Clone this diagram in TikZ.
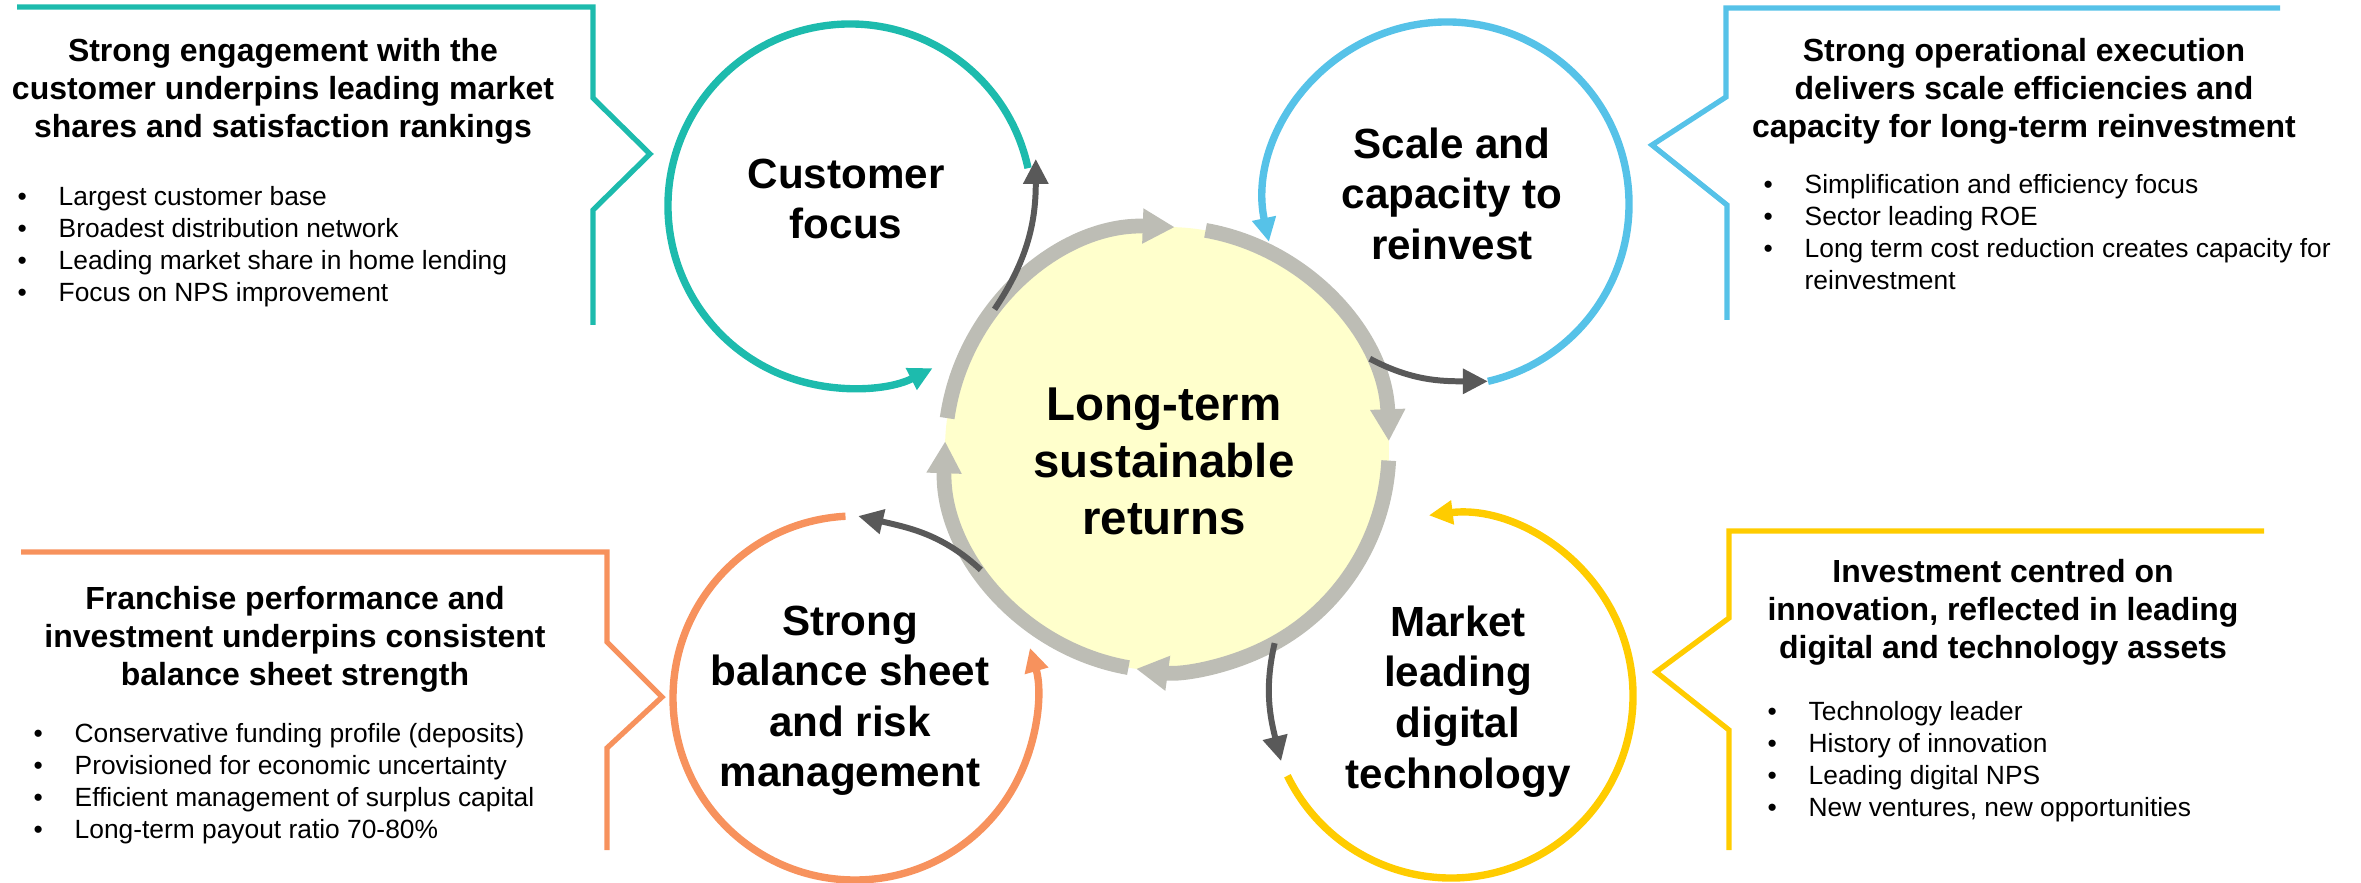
\documentclass[tikz,border=0pt]{standalone}
\usepackage{fontspec}
\setmainfont{Liberation Sans}
\usepackage{xcolor}
\usetikzlibrary{arrows.meta,positioning}

\definecolor{tealc}{HTML}{1DBBAD}
\definecolor{bluec}{HTML}{56C2E8}
\definecolor{orangec}{HTML}{F7925D}
\definecolor{goldc}{HTML}{FFCC00}
\definecolor{paleyellow}{HTML}{FFFFCC}
\definecolor{loopgrey}{HTML}{BDBDB5}
\definecolor{darkgrey}{HTML}{595959}
\newcommand{\bulitem}{\makebox[4.1mm][l]{\textbullet}}

\begin{document}
\begin{tikzpicture}[x=0.1mm,y=0.1mm,
  hub/.style={circle,minimum size=36.4mm,inner sep=0pt,outer sep=0pt},
  core/.style={circle,fill=paleyellow,minimum size=44.4mm,inner sep=0pt,outer sep=0pt},
  hublbl/.style={anchor=north,align=center,inner sep=0pt,
                 font=\fontsize{12}{14.4}\selectfont\bfseries},
  corelbl/.style={anchor=north,align=center,inner sep=0pt,
                  font=\fontsize{13.5}{16.2}\selectfont\bfseries},
  ttl/.style={anchor=north,align=center,inner sep=0pt,
              font=\fontsize{9.1}{10.7}\selectfont\bfseries},
  pts/.style={anchor=north west,align=left,inner sep=0pt,
              font=\fontsize{7.5}{9.1}\selectfont},
  arcline/.style={line width=2.1pt,-{Triangle[length=2.4mm,width=2.3mm]}},
  cyc/.style={draw=loopgrey,line width=4.2pt,-{Triangle[length=3.2mm,width=3.3mm]}},
  arr/.style={draw=darkgrey,line width=1.7pt,-{Triangle[length=2.5mm,width=2.4mm]}},
  callout/.style={line width=1.5pt}]

  \useasboundingbox (0,0) rectangle (2361,882);

  \draw[callout,tealc] (17,875) -- (593,875) -- (593,784) -- (650,728)
       -- (593,672) -- (593,557);
  \draw[callout,bluec] (2280,874) -- (1726,874) -- (1726,785) -- (1652,737)
       -- (1727,677) -- (1727,562);
  \draw[callout,orangec] (21,330) -- (607,330) -- (607,240) -- (662,185)
       -- (607,134) -- (607,32);
  \draw[callout,goldc] (2264,351) -- (1729,351) -- (1729,264) -- (1656,210)
       -- (1729,152) -- (1729,32);

  \node[ttl] (custttl) at (283,844)
       {Strong engagement with the\\customer underpins leading market\\shares and satisfaction rankings};
  \node[pts] (custpts) at (17,696)
       {\bulitem Largest customer base\\\bulitem Broadest distribution network\\
        \bulitem Leading market share in home lending\\\bulitem Focus on NPS improvement};
  \node[ttl] (reinvttl) at (2024,844)
       {Strong operational execution\\delivers scale efficiencies and\\capacity for long-term reinvestment};
  \node[pts] (reinvpts) at (1763,708)
       {\bulitem Simplification and efficiency focus\\\bulitem Sector leading ROE\\
        \bulitem Long term cost reduction creates capacity for\\\hspace*{4.1mm}reinvestment};
  \node[ttl] (balttl) at (295,296)
       {Franchise performance and\\investment underpins consistent\\balance sheet strength};
  \node[pts] (balpts) at (33,159)
       {\bulitem Conservative funding profile (deposits)\\\bulitem Provisioned for economic uncertainty\\
        \bulitem Efficient management of surplus capital\\\bulitem Long-term payout ratio 70-80\%};
  \node[ttl] (digttl) at (2003,323)
       {Investment centred on\\innovation, reflected in leading\\digital and technology assets};
  \node[pts] (digpts) at (1767,181)
       {\bulitem Technology leader\\\bulitem History of innovation\\
        \bulitem Leading digital NPS\\\bulitem New ventures, new opportunities};

  \node[core] (core) at (1167,433) {};
  \node[hub] (cust) at (850,676) {};
  \node[hub] (reinv) at (1447,678) {};
  \node[hub] (balsheet) at (855,184) {};
  \node[hub] (digital) at (1451,186) {};

  \draw[arcline,tealc] (cust.12) arc[start angle=12,end angle=297,radius=18.2mm];
  \draw[arcline,bluec] (reinv.-77) arc[start angle=-77,end angle=192,radius=18.2mm];
  \draw[arcline,orangec] (balsheet.93) arc[start angle=93,end angle=376,radius=18.2mm];
  \draw[arcline,goldc] (digital.206) arc[start angle=206,end angle=457,radius=18.2mm];

  \draw[cyc] (core.172) arc[start angle=172,end angle=88,radius=22.2mm];
  \draw[cyc] (core.80) arc[start angle=80,end angle=2,radius=22.2mm];
  \draw[cyc] (core.-3) arc[start angle=-3,end angle=-98,radius=22.2mm];
  \draw[cyc] (core.-100) arc[start angle=-100,end angle=-182,radius=22.2mm];

  \draw[arr] (core.141) to[out=56,in=-90] ([xshift=1mm]cust.15);
  \draw[arr] (core.24) to[out=-28,in=180] (reinv.-77);
  \draw[arr] (core.-61) to[out=-103,in=104] (digital.201);
  \draw[arr] (core.213) to[out=137,in=-13] (balsheet.89);

  \node[hublbl] (custlbl) at (846,724) {Customer\\focus};
  \node[hublbl] (reinvlbl) at (1452,755) {Scale and\\capacity to\\reinvest};
  \node[hublbl] (ballbl) at (850,277) {Strong\\balance sheet\\and risk\\management};
  \node[hublbl] (diglbl) at (1458,277) {Market\\leading\\digital\\technology};
  \node[corelbl] (mainlbl) at (1164,495) {Long-term\\sustainable\\returns};
\end{tikzpicture}
\end{document}
